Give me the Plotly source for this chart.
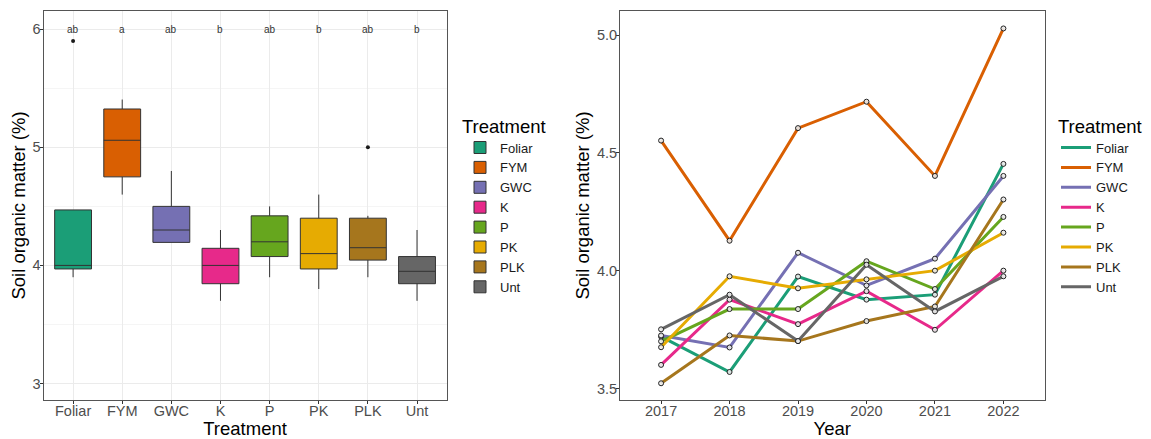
import plotly.graph_objects as go

# ---------------- data ----------------
treatments = ["Foliar", "FYM", "GWC", "K", "P", "PK", "PLK", "Unt"]
colors = ["#1B9E77", "#D95F02", "#7570B3", "#E7298A", "#66A61E", "#E6AB02", "#A6761D", "#666666"]

box_lower = [3.90, 4.60, 4.195, 3.70, 3.90, 3.80, 3.90, 3.70]
box_q1 = [3.97, 4.75, 4.195, 3.845, 4.075, 3.97, 4.045, 3.845]
box_median = [4.00, 5.06, 4.30, 4.00, 4.20, 4.10, 4.15, 3.95]
box_q3 = [4.47, 5.325, 4.50, 4.145, 4.42, 4.40, 4.40, 4.075]
box_upper = [4.47, 5.405, 4.80, 4.30, 4.50, 4.60, 4.42, 4.30]

letters = ["ab", "a", "ab", "b", "ab", "b", "ab", "b"]
letter_y = 6.0

outlier_cat = ["Foliar", "PLK"]
outlier_val = [5.90, 5.00]

years = ["2017", "2018", "2019", "2020", "2021", "2022"]
som_foliar = [3.72, 3.57, 3.975, 3.877, 3.898, 4.453]
som_fym = [4.552, 4.127, 4.605, 4.717, 4.402, 5.028]
som_gwc = [3.725, 3.674, 4.076, 3.937, 4.051, 4.402]
som_k = [3.600, 3.877, 3.773, 3.913, 3.749, 4.000]
som_p = [3.700, 3.837, 3.837, 4.040, 3.922, 4.228]
som_pk = [3.675, 3.976, 3.925, 3.963, 4.000, 4.161]
som_plk = [3.522, 3.725, 3.701, 3.786, 3.848, 4.302]
som_unt = [3.751, 3.898, 3.701, 4.025, 3.827, 3.976]
series = [som_foliar, som_fym, som_gwc, som_k, som_p, som_pk, som_plk, som_unt]

# ---------------- figure ----------------
FONT = "Liberation Sans, Arial, sans-serif"
# page has an 8px body margin; figure is sized/offset to compensate
W, H = 1143, 431
OFF = 8
fig = go.Figure()

# Left: boxplots
for i, t in enumerate(treatments):
    fig.add_trace(go.Box(
        x=[t], q1=[box_q1[i]], median=[box_median[i]], q3=[box_q3[i]],
        lowerfence=[box_lower[i]], upperfence=[box_upper[i]],
        name=t, fillcolor=colors[i], line=dict(color="#333333", width=1),
        width=0.75, whiskerwidth=0, boxpoints=False,
        xaxis="x", yaxis="y", legend="legend",
    ))

fig.add_trace(go.Scatter(
    x=outlier_cat, y=outlier_val, mode="markers",
    marker=dict(color="#1a1a1a", size=4), showlegend=False,
    xaxis="x", yaxis="y",
))

for t, lab in zip(treatments, letters):
    fig.add_annotation(x=t, y=letter_y, xref="x", yref="y", text=lab,
                       showarrow=False, font=dict(size=10, color="#333333", family=FONT),
                       yanchor="middle")

# Right: lines
for i, t in enumerate(treatments):
    fig.add_trace(go.Scatter(
        x=years, y=series[i], mode="lines", name=t,
        line=dict(color=colors[i], width=3),
        xaxis="x2", yaxis="y2", legend="legend2",
    ))
for i, t in enumerate(treatments):
    fig.add_trace(go.Scatter(
        x=years, y=series[i], mode="markers", showlegend=False,
        marker=dict(symbol="circle", size=5, color="rgba(235,235,235,0.9)",
                    line=dict(color="#222222", width=1)),
        xaxis="x2", yaxis="y2",
    ))

tickfont = dict(size=14.5, color="#4D4D4D", family=FONT)
titlefont = dict(size=18.5, color="#000000", family=FONT)

common_axis = dict(showline=True, linecolor="#555555", linewidth=1, mirror=True,
                   ticks="outside", ticklen=3, tickcolor="#333333", tickfont=tickfont,
                   zeroline=False)

def px(x):
    return (x - OFF) / W

fig.update_layout(
    width=W, height=H,
    margin=dict(l=0, r=0, t=11 - OFF, b=39),
    paper_bgcolor="white", plot_bgcolor="white",
    font=dict(family=FONT),
    boxmode="overlay",
    xaxis=dict(domain=[px(43.6), px(446.5)], type="category",
               categoryorder="array", categoryarray=treatments,
               range=[-0.6, 7.6], showgrid=True, gridcolor="#EBEBEB",
               title=dict(text="Treatment", font=titlefont, standoff=0),
               anchor="y", **common_axis),
    yaxis=dict(range=[2.86, 6.155], dtick=1, tick0=0, showgrid=True, gridcolor="#EBEBEB",
               minor=dict(dtick=0.5, tick0=0, showgrid=True, gridcolor="#F5F5F5", ticks=""),
               title=dict(text="Soil organic matter (%)", font=titlefont, standoff=2),
               anchor="x", **common_axis),
    xaxis2=dict(domain=[px(620), px(1044.5)], type="category",
                categoryorder="array", categoryarray=years,
                range=[-0.6, 5.6], showgrid=False,
                title=dict(text="Year", font=titlefont, standoff=0),
                anchor="y2", **common_axis),
    yaxis2=dict(range=[3.451, 5.102], dtick=0.5, tick0=0, tickformat=".1f", showgrid=False,
                title=dict(text="Soil organic matter (%)", font=titlefont, standoff=2),
                anchor="x2", **common_axis),
    legend=dict(x=px(460), xanchor="left", y=0.5, yanchor="middle",
                title=dict(text="Treatment", font=titlefont),
                font=dict(size=13, color="#1a1a1a", family=FONT),
                bgcolor="rgba(0,0,0,0)", tracegroupgap=0, itemwidth=30),
    legend2=dict(x=px(1056), xanchor="left", y=0.5, yanchor="middle",
                 title=dict(text="Treatment", font=titlefont),
                 font=dict(size=13, color="#1a1a1a", family=FONT),
                 bgcolor="rgba(0,0,0,0)", tracegroupgap=0, itemwidth=30),
)

for ax in ["xaxis", "xaxis2"]:
    try:
        fig.layout[ax].ticklabelstandoff = -5
    except Exception:
        pass
for ax in ["yaxis", "yaxis2"]:
    try:
        fig.layout[ax].ticklabelstandoff = -4
    except Exception:
        pass

fig.write_html("out.html")
